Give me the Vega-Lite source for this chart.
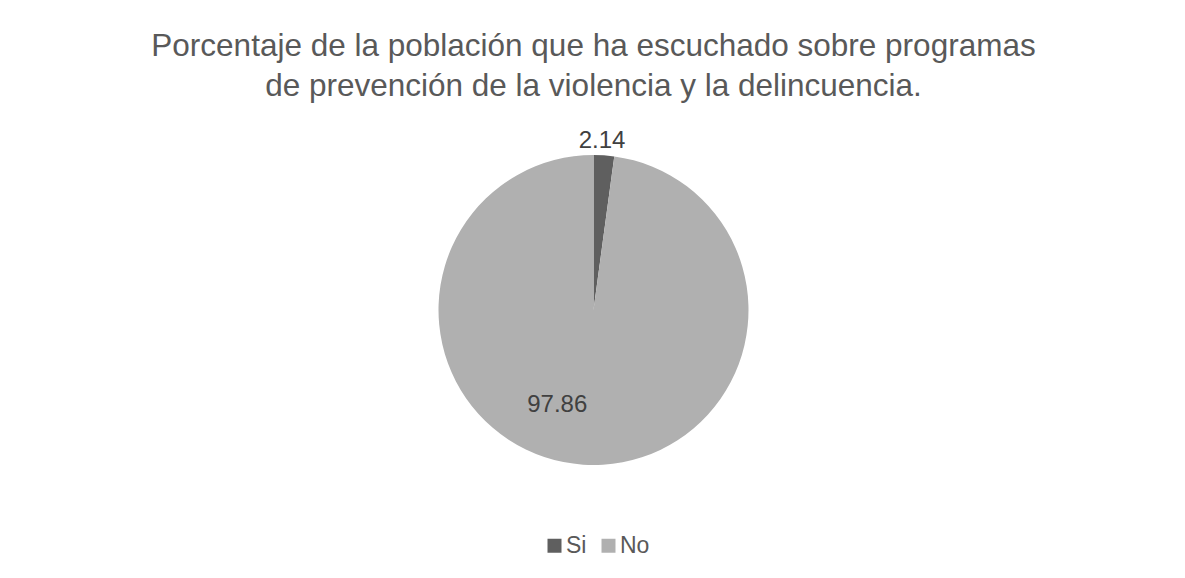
{
  "$schema": "https://vega.github.io/schema/vega-lite/v6.json",
  "width": 1183,
  "height": 360,
  "autosize": {"type": "none"},
  "padding": {"top": 130, "left": 2, "right": 0, "bottom": 88},
  "background": "white",
  "config": {"view": {"stroke": null}, "font": "Liberation Sans"},
  "title": {
    "text": ["Porcentaje de la población que ha escuchado sobre programas", "de prevención de la violencia y la delincuencia."],
    "fontSize": 31.5,
    "font": "Liberation Sans",
    "fontWeight": "normal",
    "color": "#595959",
    "anchor": "middle",
    "frame": "group",
    "baseline": "bottom",
    "lineHeight": 40,
    "offset": -5
  },
  "data": {"values": [
    {"respuesta": "Si", "pct": 2.14},
    {"respuesta": "No", "pct": 97.86}
  ]},
  "encoding": {
    "theta": {"field": "pct", "type": "quantitative", "stack": true},
    "order": {"field": "pct", "type": "quantitative", "sort": "ascending"}
  },
  "layer": [
    {
      "mark": {"type": "arc", "outerRadius": 155},
      "encoding": {
        "color": {
          "field": "respuesta", "type": "nominal",
          "scale": {"domain": ["Si", "No"], "range": ["#5f5f5f", "#b0b0b0"]},
          "sort": null,
          "legend": {
            "title": null, "orient": "none", "direction": "horizontal",
            "legendX": 541, "legendY": 404,
            "symbolType": "square", "symbolSize": 196, "symbolStrokeWidth": 0,
            "labelFontSize": 23, "labelColor": "#595959", "labelFont": "Liberation Sans",
            "columnPadding": 10, "labelOffset": 0
          }
        }
      }
    },
    {
      "transform": [{"filter": "datum.respuesta == 'Si'"}],
      "mark": {"type": "text", "radius": 172, "fontSize": 24, "color": "#404040", "dx": -3, "dy": 3},
      "encoding": {"text": {"field": "pct", "type": "quantitative", "format": ".2f"}}
    },
    {
      "transform": [{"filter": "datum.respuesta == 'No'"}],
      "mark": {"type": "text", "radius": 101, "fontSize": 24, "color": "#404040", "dx": -43, "dy": -6},
      "encoding": {"text": {"field": "pct", "type": "quantitative", "format": ".2f"}}
    }
  ]
}
